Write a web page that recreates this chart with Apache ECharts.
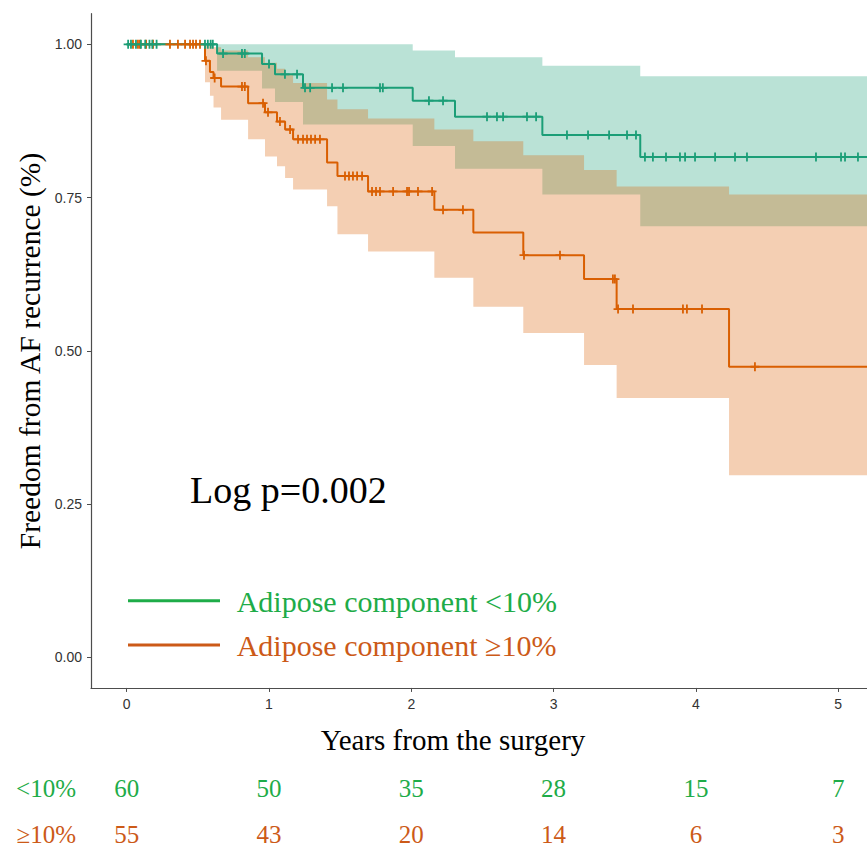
<!DOCTYPE html>
<html>
<head>
<meta charset="utf-8">
<script src="https://cdn.jsdelivr.net/npm/echarts@6/dist/echarts.min.js"></script>
<style>html,body{margin:0;padding:0;background:#fff}#c{width:867px;height:849px}</style>
</head>
<body>
<div id="c"></div>
<script>
// ---------- data ----------
const groupNames = ['Adipose component <10%', 'Adipose component \u226510%'];
const riskLabels = ['<10%', '\u226510%'];

const lowTimes  = [0, 0.635, 0.951, 1.042, 1.239, 2.010, 2.307, 2.921, 3.609];
const lowSurv   = [1, 0.985, 0.968, 0.951, 0.929, 0.908, 0.882, 0.852, 0.816];
const lowLower  = [1, 0.957, 0.928, 0.906, 0.869, 0.834, 0.797, 0.755, 0.703];
const lowUpper  = [1, 1.000, 1.000, 1.000, 1.000, 0.990, 0.979, 0.965, 0.948];
const lowCensor = [0.01, 0.03, 0.065, 0.10, 0.13, 0.16, 0.18, 0.21, 0.55, 0.57, 0.59, 0.605,
                   0.677, 0.81, 0.83, 1.00, 1.112, 1.197,
                   1.253, 1.289, 1.443, 1.52, 1.78, 1.80, 2.124, 2.223,
                   2.532, 2.602, 2.645, 2.813, 2.877, 3.094, 3.242, 3.39, 3.516, 3.579,
                   3.642, 3.698, 3.79, 3.888, 3.924, 3.994, 4.135, 4.275, 4.359, 4.844, 5.02, 5.048, 5.139];

const highTimes  = [0, 0.550, 0.585, 0.610, 0.663, 0.853, 0.972, 1.056, 1.113, 1.169, 1.408, 1.481, 1.696, 2.162, 2.436, 2.787, 3.214, 3.443, 4.233];
const highSurv   = [1, 0.973, 0.955, 0.945, 0.931, 0.904, 0.889, 0.874, 0.861, 0.845, 0.807, 0.785, 0.760, 0.730, 0.693, 0.656, 0.617, 0.568, 0.474];
const highLower  = [1, 0.938, 0.916, 0.897, 0.877, 0.845, 0.817, 0.801, 0.782, 0.763, 0.736, 0.690, 0.662, 0.619, 0.572, 0.529, 0.477, 0.423, 0.297];
const highUpper  = [1, 1.000, 1.000, 0.995, 0.990, 0.979, 0.970, 0.960, 0.950, 0.937, 0.910, 0.894, 0.879, 0.861, 0.842, 0.819, 0.795, 0.768, 0.755];
const highCensor = [0.044, 0.079, 0.093, 0.136, 0.185, 0.304, 0.36, 0.41, 0.445, 0.466, 0.487, 0.515,
                    0.557, 0.618, 0.81, 0.83, 0.958, 0.993, 1.077, 1.148,
                    1.204, 1.239, 1.267, 1.295, 1.324, 1.358,
                    1.534, 1.562, 1.59, 1.619, 1.654,
                    1.724, 1.752, 1.78, 1.872, 1.97, 1.984, 2.047, 2.146,
                    2.223, 2.363, 2.792, 3.045, 3.417, 3.431,
                    3.453, 3.558, 3.909, 3.937, 4.043, 4.415];

const followUpEnd = 5.35;
const xTicks = [0, 1, 2, 3, 4, 5];
const yTicks = [0, 0.25, 0.5, 0.75, 1];
const riskTimes = [0, 1, 2, 3, 4, 5];
const riskLow  = [60, 50, 35, 28, 15, 7];
const riskHigh = [55, 43, 20, 14, 6, 3];
const pText = 'Log p=0.002';

// ---------- styles ----------
const lineGreen = '#1b9e77', lineOrange = '#d95f02';
const txtGreen = '#1eac48', txtOrange = '#cc5a18';
const serif = '"Liberation Serif", "Times New Roman", serif';
const sans = '"Liberation Sans", Arial, sans-serif';

function stepAt(times, vals, t) {
  let v = vals[0];
  for (let i = 0; i < times.length; i++) if (times[i] <= t) v = vals[i];
  return v;
}
function stepLine(times, vals) {
  const d = times.map((t, i) => [t, vals[i]]);
  d.push([followUpEnd, vals[vals.length - 1]]);
  return d;
}
function bandRender(times, lower, upper, color) {
  return function (params, api) {
    const n = times.length;
    const pts = [];
    for (let i = 0; i < n; i++) {
      const t1 = i + 1 < n ? times[i + 1] : followUpEnd;
      pts.push(api.coord([times[i], upper[i]]));
      pts.push(api.coord([t1, upper[i]]));
    }
    for (let i = n - 1; i >= 0; i--) {
      const t1 = i + 1 < n ? times[i + 1] : followUpEnd;
      pts.push(api.coord([t1, lower[i]]));
      pts.push(api.coord([times[i], lower[i]]));
    }
    return { type: 'polygon', shape: { points: pts }, style: { fill: color, opacity: 0.3 } };
  };
}
const plusSymbol = 'path://M4,0H6V4H10V6H6V10H4V6H0V4H4Z';

const chart = echarts.init(document.getElementById('c'), null, { renderer: 'svg' });
const axisColor = '#4d4d4d';

chart.setOption({
  animation: false,
  backgroundColor: '#fff',
  grid: [
    { left: 91, top: 13.65, width: 785.6, height: 674.3, outerBoundsMode: 'none', containLabel: false },
    { left: 91, top: 764.9, width: 785.6, height: 93.4, outerBoundsMode: 'none', containLabel: false }
  ],
  xAxis: [
    {
      gridIndex: 0, type: 'value', min: -0.251, max: 5.27,
      axisLine: { onZero: false, lineStyle: { color: axisColor, width: 1.2 } },
      axisTick: { customValues: xTicks, length: 4, lineStyle: { color: axisColor } },
      axisLabel: { customValues: xTicks, margin: 9, color: '#333', fontSize: 14, fontFamily: sans },
      splitLine: { show: false }
    },
    { gridIndex: 1, type: 'value', min: -0.251, max: 5.27, show: false }
  ],
  yAxis: [
    {
      gridIndex: 0, type: 'value', min: -0.05, max: 1.05,
      axisLine: { show: true, onZero: false, lineStyle: { color: axisColor, width: 1.2 } },
      axisTick: { show: true, customValues: yTicks, length: 4, lineStyle: { color: axisColor } },
      axisLabel: { customValues: yTicks, margin: 9, color: '#333', fontSize: 14, fontFamily: sans,
                   formatter: v => Number(v).toFixed(2) },
      splitLine: { show: false }
    },
    {
      gridIndex: 1, type: 'category', data: riskLabels, inverse: true,
      axisLine: { show: false }, axisTick: { show: false }, splitLine: { show: false },
      axisLabel: { margin: 15, fontSize: 25, fontFamily: serif,
                   color: (v, i) => (v === riskLabels[0] ? txtGreen : txtOrange) }
    }
  ],
  series: [
    { type: 'custom', name: 'band-low', xAxisIndex: 0, yAxisIndex: 0, clip: true, z: 1,
      data: [[0, 0]], renderItem: bandRender(lowTimes, lowLower, lowUpper, lineGreen), silent: true },
    { type: 'custom', name: 'band-high', xAxisIndex: 0, yAxisIndex: 0, clip: true, z: 1,
      data: [[0, 0]], renderItem: bandRender(highTimes, highLower, highUpper, lineOrange), silent: true },
    { type: 'line', name: groupNames[1], step: 'end', showSymbol: false, z: 3,
      lineStyle: { color: lineOrange, width: 2 }, data: stepLine(highTimes, highSurv) },
    { type: 'line', name: groupNames[0], step: 'end', showSymbol: false, z: 3,
      lineStyle: { color: lineGreen, width: 2 }, data: stepLine(lowTimes, lowSurv) },
    { type: 'scatter', name: 'censor-high', symbol: plusSymbol, symbolSize: 9, z: 4,
      itemStyle: { color: lineOrange, opacity: 1 },
      data: highCensor.map(t => [t, stepAt(highTimes, highSurv, t)]) },
    { type: 'scatter', name: 'censor-low', symbol: plusSymbol, symbolSize: 9, z: 4,
      itemStyle: { color: lineGreen, opacity: 1 },
      data: lowCensor.map(t => [t, stepAt(lowTimes, lowSurv, t)]) },
    { type: 'scatter', name: 'risk-low', xAxisIndex: 1, yAxisIndex: 1, symbolSize: 1,
      itemStyle: { color: 'transparent', opacity: 1 },
      label: { show: true, position: 'inside', formatter: p => String(p.value[2]), opacity: 1,
               color: txtGreen, textBorderWidth: 0, fontSize: 25, fontFamily: serif },
      data: riskTimes.map((t, i) => [t, riskLabels[0], riskLow[i]]) },
    { type: 'scatter', name: 'risk-high', xAxisIndex: 1, yAxisIndex: 1, symbolSize: 1,
      itemStyle: { color: 'transparent', opacity: 1 },
      label: { show: true, position: 'inside', formatter: p => String(p.value[2]), opacity: 1,
               color: txtOrange, textBorderWidth: 0, fontSize: 25, fontFamily: serif },
      data: riskTimes.map((t, i) => [t, riskLabels[1], riskHigh[i]]) }
  ],
  graphic: [
    { type: 'text', x: 30, y: 351, rotation: Math.PI / 2,
      style: { text: 'Freedom from AF recurrence (%)', fill: '#000', font: '29.5px ' + serif,
               align: 'center', verticalAlign: 'middle' } },
    { type: 'text', x: 453, y: 740,
      style: { text: 'Years from the surgery', fill: '#000', font: '29px ' + serif,
               align: 'center', verticalAlign: 'middle' } },
    { type: 'text', x: 190, y: 490,
      style: { text: pText, fill: '#000', font: '38px ' + serif, align: 'left', verticalAlign: 'middle' } },
    { type: 'line', shape: { x1: 128, y1: 600.7, x2: 220, y2: 600.7 }, style: { stroke: txtGreen, lineWidth: 3 } },
    { type: 'line', shape: { x1: 128, y1: 645, x2: 220, y2: 645 }, style: { stroke: txtOrange, lineWidth: 3 } },
    { type: 'text', x: 236.7, y: 601.5,
      style: { text: groupNames[0], fill: txtGreen, font: '30px ' + serif, align: 'left', verticalAlign: 'middle' } },
    { type: 'text', x: 236.7, y: 645.5,
      style: { text: groupNames[1], fill: txtOrange, font: '30px ' + serif, align: 'left', verticalAlign: 'middle' } }
  ]
});
</script>
</body>
</html>
